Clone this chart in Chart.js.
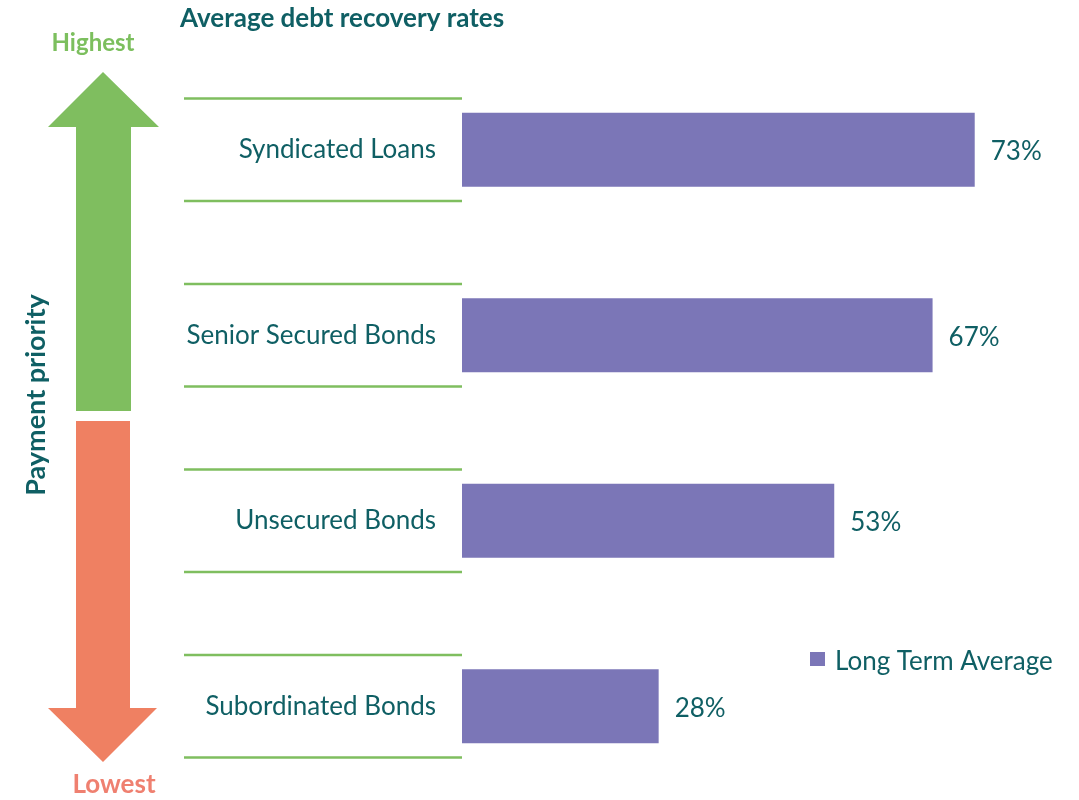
<!DOCTYPE html>
<html lang="en">
<head>
    <meta charset="UTF-8">
    <title>Average debt recovery rates</title>
    <style>
        body {
            margin: 0;
            background: #fff;
        }
        .chart-box {
            width: 1079px;
            height: 800px;
            position: relative;
        }
    </style>
    <script src="https://cdn.jsdelivr.net/npm/chart.js"></script>
</head>
<body>
    <div class="chart-box">
        <canvas id="recoveryChart"></canvas>
    </div>
    <script>
        const categories = ['Syndicated Loans', 'Senior Secured Bonds', 'Unsecured Bonds', 'Subordinated Bonds'];
        const recoveryRates = [73, 67, 53, 28];
        const seriesName = 'Long Term Average';

        const teal = '#0f5f64';
        const purple = '#7b76b7';
        const green = '#7fbe5f';
        const salmon = '#ef8062';
        const fontName = 'Lato, "Open Sans", sans-serif';

        // decorations: title, priority arrows, separator lines, value labels, legend
        const decorPlugin = {
            id: 'decor',
            beforeDatasetsDraw(chart) {
                const ctx = chart.ctx;
                const y = chart.scales.y;
                const step = y.getPixelForValue(1) - y.getPixelForValue(0);
                ctx.save();
                ctx.strokeStyle = green;
                ctx.lineWidth = 2.5;
                categories.forEach((c, i) => {
                    const cy = y.getPixelForValue(i);
                    [cy - step * 0.276, cy + step * 0.276].forEach(ly => {
                        ctx.beginPath();
                        ctx.moveTo(184, ly);
                        ctx.lineTo(chart.chartArea.left, ly);
                        ctx.stroke();
                    });
                });
                ctx.restore();
            },
            afterDraw(chart) {
                const ctx = chart.ctx;
                ctx.save();

                // title
                ctx.fillStyle = teal;
                ctx.font = 'bold 26px ' + fontName;
                ctx.textAlign = 'left';
                ctx.textBaseline = 'middle';
                ctx.fillText('Average debt recovery rates', 180, 19);

                // green up arrow
                ctx.fillStyle = green;
                ctx.beginPath();
                ctx.moveTo(103, 72);
                ctx.lineTo(159, 127);
                ctx.lineTo(131, 127);
                ctx.lineTo(131, 411);
                ctx.lineTo(76, 411);
                ctx.lineTo(76, 127);
                ctx.lineTo(48, 127);
                ctx.closePath();
                ctx.fill();

                // salmon down arrow
                ctx.fillStyle = salmon;
                ctx.beginPath();
                ctx.moveTo(76, 421);
                ctx.lineTo(130, 421);
                ctx.lineTo(130, 708);
                ctx.lineTo(157, 708);
                ctx.lineTo(103, 762);
                ctx.lineTo(48, 708);
                ctx.lineTo(76, 708);
                ctx.closePath();
                ctx.fill();

                ctx.textAlign = 'center';
                ctx.font = 'bold 24px ' + fontName;
                ctx.fillStyle = '#7cbf5e';
                ctx.fillText('Highest', 93, 43);
                ctx.font = 'bold 26px ' + fontName;
                ctx.fillStyle = '#ef8070';
                ctx.fillText('Lowest', 114, 785);

                // rotated axis caption
                ctx.save();
                ctx.translate(36, 395);
                ctx.rotate(-Math.PI / 2);
                ctx.font = 'bold 27px ' + fontName;
                ctx.fillStyle = teal;
                ctx.fillText('Payment priority', 0, 0);
                ctx.restore();

                // value labels
                ctx.font = '26px ' + fontName;
                ctx.fillStyle = teal;
                ctx.textAlign = 'left';
                const meta = chart.getDatasetMeta(0);
                meta.data.forEach((bar, i) => {
                    ctx.fillText(recoveryRates[i] + '%', bar.x + 16, bar.y + 2);
                });

                // legend
                ctx.fillStyle = purple;
                ctx.fillRect(810, 652, 15, 14);
                ctx.fillStyle = teal;
                ctx.fillText(seriesName, 835, 662);

                ctx.restore();
            }
        };

        new Chart(document.getElementById('recoveryChart'), {
            type: 'bar',
            data: {
                labels: categories,
                datasets: [{
                    label: seriesName,
                    data: recoveryRates,
                    backgroundColor: purple,
                    barPercentage: 0.8,
                    categoryPercentage: 0.5
                }]
            },
            options: {
                indexAxis: 'y',
                responsive: true,
                maintainAspectRatio: false,
                animation: false,
                layout: {
                    padding: { top: 57, bottom: 1, left: 0, right: 20 }
                },
                plugins: {
                    legend: { display: false },
                    tooltip: { enabled: false }
                },
                scales: {
                    x: {
                        display: false,
                        min: 0,
                        max: 85
                    },
                    y: {
                        afterFit(scale) {
                            scale.width = 462;
                            scale.paddingTop = 0;
                            scale.paddingBottom = 0;
                        },
                        border: { display: false },
                        grid: { display: false },
                        ticks: {
                            color: teal,
                            padding: 18,
                            font: { family: fontName, size: 26 }
                        }
                    }
                }
            },
            plugins: [decorPlugin]
        });
    </script>
</body>
</html>
